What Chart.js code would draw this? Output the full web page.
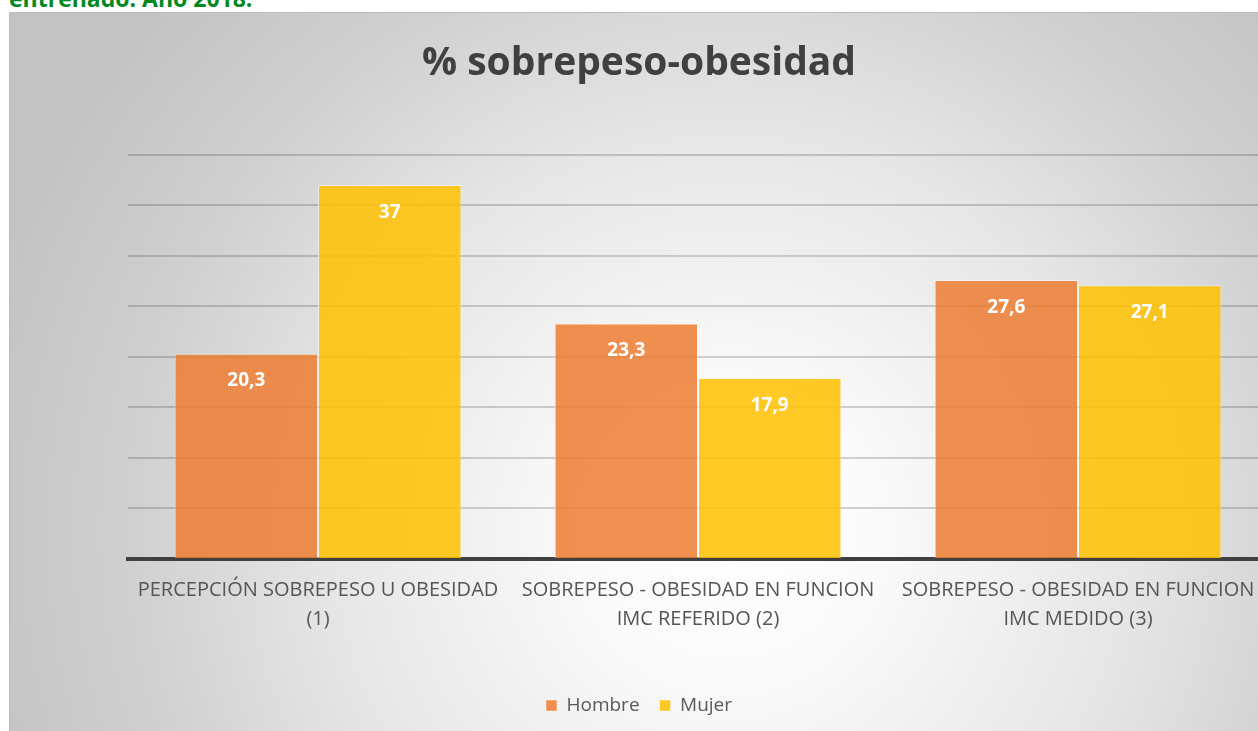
<!DOCTYPE html>
<html><head><meta charset="utf-8">
<script src="https://cdn.jsdelivr.net/npm/chart.js@4.4.1/dist/chart.umd.min.js"></script>
<style>
html,body{margin:0;padding:0;width:1258px;height:731px;overflow:hidden;background:#fff;}
#top{position:absolute;left:9px;top:-18px;font:bold 23px "Open Sans",sans-serif;color:#008a22;white-space:nowrap;}
#box{position:absolute;left:9px;top:12px;width:1262px;height:740px;border:1px solid #bdbdbd;
background:radial-gradient(circle at 720px 520px,#ffffff 0px,#fafafa 150px,#e6e6e6 400px,#d0d0d0 600px,#c3c3c3 780px);}
#wrap{position:absolute;left:0;top:0;width:1258px;height:712px;}
</style></head><body>
<div id="top">entrenado. Año 2018.</div>
<div id="box"><div id="wrap"><canvas id="c"></canvas></div></div>
<script>
const categories=[["PERCEPCIÓN SOBREPESO U OBESIDAD","(1)"],["SOBREPESO - OBESIDAD EN FUNCION","IMC REFERIDO (2)"],["SOBREPESO - OBESIDAD EN FUNCION","IMC MEDIDO (3)"]];
const hombre=[20.3,23.3,27.6];
const mujer=[37,17.9,27.1];
const seriesNames=["Hombre","Mujer"];
const titleText="% sobrepeso-obesidad";

const valueLabels={id:'valueLabels',afterDatasetsDraw(chart){
  const ctx=chart.ctx;ctx.save();
  ctx.font='bold 19px "Open Sans", sans-serif';ctx.fillStyle='#ffffff';
  ctx.textAlign='center';ctx.textBaseline='middle';
  chart.data.datasets.forEach((ds,i)=>{
    chart.getDatasetMeta(i).data.forEach((bar,j)=>{
      ctx.fillText(String(ds.data[j]).replace('.',','),bar.x,bar.y+27);
    });
  });
  ctx.restore();
}};

new Chart(document.getElementById('c'),{
  type:'bar',
  data:{labels:categories,datasets:[
    {label:seriesNames[0],data:hombre,backgroundColor:'rgba(237,125,49,0.85)',borderColor:'rgba(255,255,255,0.45)',borderWidth:1},
    {label:seriesNames[1],data:mujer,backgroundColor:'rgba(255,192,0,0.85)',borderColor:'rgba(255,255,255,0.45)',borderWidth:1}
  ]},
  options:{
    responsive:true,maintainAspectRatio:false,animation:false,
    layout:{padding:0},
    datasets:{bar:{categoryPercentage:0.755,barPercentage:1}},
    plugins:{
      title:{display:true,text:titleText,color:'#404040',font:{family:'"Open Sans", sans-serif',size:39,weight:'bold'},padding:{top:27,bottom:68}},
      legend:{position:'bottom',labels:{color:'#595959',font:{family:'"Open Sans", sans-serif',size:19},boxWidth:11,boxHeight:11,padding:20}},
      tooltip:{enabled:false}
    },
    scales:{
      x:{grid:{display:false},border:{display:true,color:'#404040',width:4},
        ticks:{color:'#555555',font:{family:'"Open Sans", sans-serif',size:20,lineHeight:1.45},padding:9,maxRotation:0,autoSkip:false},
        afterFit(s){s.height=117;s.paddingLeft=0;s.paddingRight=0;}},
      y:{min:0,max:40,ticks:{stepSize:5,display:false},
        grid:{color:'rgba(0,0,0,0.17)',lineWidth:2,drawTicks:false},border:{display:false},
        afterFit(s){s.width=118;}}
    }
  },
  plugins:[valueLabels]
});
</script>
</body></html>
